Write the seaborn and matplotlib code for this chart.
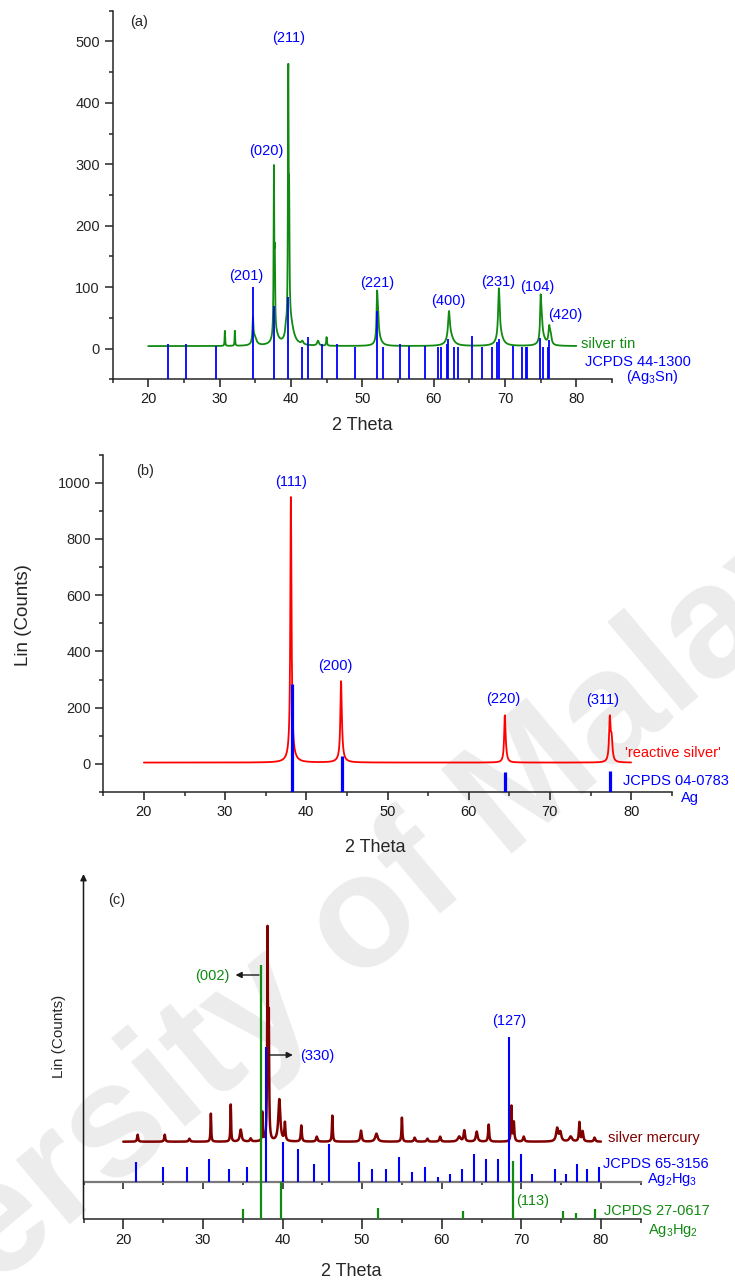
import numpy as np
import matplotlib
matplotlib.use("Agg")
import matplotlib.pyplot as plt
from matplotlib.ticker import MultipleLocator, NullLocator
import seaborn as sns

# ---------------- data ----------------
# (a) silver tin: peak list (2theta, height above background, FWHM)
sn_pos  = [30.75, 32.15, 34.68, 34.9, 37.62, 37.74, 37.85, 39.3, 39.63, 39.75, 39.95,
           41.6, 43.8, 45.0, 52.08, 52.22, 52.35, 62.15, 62.35, 69.15, 69.3,
           75.0, 75.15, 75.3, 76.2, 76.4]
sn_int  = [26, 26, 38, 14, 262, 110, 18, 14, 405, 170, 36,
           5, 8, 14, 72, 30, 12, 44, 15, 78, 18,
           64, 28, 12, 26, 14]
sn_fwhm = [0.08, 0.08, 0.15, 0.6, 0.1, 0.1, 0.9, 0.2, 0.11, 0.12, 1.0,
           0.3, 0.3, 0.12, 0.18, 0.2, 0.8, 0.3, 1.0, 0.25, 0.9,
           0.18, 0.25, 0.9, 0.25, 0.3]
sn_background = 4

# JCPDS 44-1300 (Ag3Sn) reference lines
ag3sn_pos = [22.75, 25.35, 29.5, 34.65, 37.6, 39.6, 41.6, 42.45, 44.35, 46.4, 49.0,
             52.05, 52.9, 55.25, 56.55, 58.85, 60.65, 61.0, 61.85, 62.05, 62.9, 63.4,
             65.35, 66.75, 68.25, 68.85, 69.1, 71.15, 72.35, 72.9, 73.1, 74.9, 75.4,
             76.0, 76.2]
ag3sn_int = [7, 7, 5, 100, 70, 84, 3, 19, 8, 8, 3,
             61, 3, 8, 5, 5, 3, 3, 8, 15, 3, 3,
             20, 3, 3, 11, 15, 4, 2, 2, 2, 18, 3,
             3, 14]
ag3sn_hkl = ["(201)", "(020)", "(211)", "(221)", "(400)", "(231)", "(104)", "(420)"]
ag3sn_hkl_x = [33.7, 36.6, 39.65, 52.1, 62.1, 69.0, 74.5, 78.4]
ag3sn_hkl_y = [118, 322, 506, 107, 77, 108, 100, 54]

# (b) reactive silver
ag_pos  = [38.1, 38.22, 38.15, 44.28, 44.4, 44.3, 64.45, 64.6, 77.38, 77.6]
ag_int  = [880, 60, 40, 262, 25, 14, 160, 18, 150, 75]
ag_fwhm = [0.16, 0.2, 0.8, 0.2, 0.25, 0.9, 0.2, 0.3, 0.22, 0.25]
ag_background = 5

# JCPDS 04-0783 (Ag) reference lines
jc_ag_pos = [38.2, 44.35, 64.5, 77.4]
jc_ag_int = [285, 28, -30, -25]
ag_hkl = ["(111)", "(200)", "(220)", "(311)"]
ag_hkl_x = [38.07, 43.6, 64.3, 76.5]
ag_hkl_y = [1003, 350, 230, 227]

# (c) silver mercury (arbitrary intensity units)
hg_pos  = [21.8, 25.2, 28.3, 31.0, 33.5, 34.75, 36.0, 37.47, 38.12, 38.28, 39.6,
           40.3, 42.36, 44.3, 46.26, 49.86, 51.8, 55.0, 56.6, 58.2, 59.8, 62.2,
           62.84, 64.4, 65.9, 68.75, 69.06, 70.3, 74.5, 74.9, 76.2, 77.3, 77.7, 79.2]
hg_int  = [7, 7, 3, 28, 37, 12, 3, 30, 205, 115, 42,
           18, 16, 5, 26, 11, 8, 24, 4, 3, 5, 5,
           11, 10, 17, 36, 19, 5, 13, 9, 5, 19, 10, 4]
hg_fwhm = [0.15, 0.15, 0.2, 0.1, 0.1, 0.25, 0.2, 0.08, 0.1, 0.1, 0.3,
           0.15, 0.15, 0.2, 0.12, 0.2, 0.35, 0.12, 0.2, 0.2, 0.2, 0.4,
           0.2, 0.25, 0.15, 0.12, 0.15, 0.2, 0.3, 0.3, 0.4, 0.15, 0.2, 0.2]
hg_offset = 77

# JCPDS 65-3156 (Ag2Hg3) reference lines, drawn from the middle baseline
ag2hg3_pos = [21.55, 24.95, 27.96, 30.73, 33.24, 35.6, 37.87, 40.0, 42.0, 43.98,
              45.9, 49.57, 51.28, 53.0, 54.67, 56.3, 57.9, 59.5, 61.05, 62.55,
              64.05, 65.6, 67.05, 68.45, 69.95, 71.35, 74.2, 75.6, 76.95, 78.3, 79.7]
ag2hg3_int = [20, 15, 15, 23, 13, 15, 135, 40, 33, 18,
              38, 20, 13, 13, 25, 10, 15, 5, 8, 13,
              28, 23, 23, 145, 28, 8, 13, 8, 18, 13, 15]
ag2hg3_base = 36.7

# JCPDS 27-0617 (Ag3Hg2) reference lines
ag3hg2_pos = [35.0, 37.25, 39.82, 52.0, 62.72, 68.9, 75.25, 76.9, 79.3]
ag3hg2_int = [9.7, 254, 36.7, 11, 8, 58, 7.7, 6, 9.7]

# ---------------- style ----------------
sns.set_theme(style="ticks")
plt.rcParams["font.family"] = ["Liberation Sans", "DejaVu Sans"]
plt.rcParams["mathtext.fontset"] = "custom"
plt.rcParams["mathtext.rm"] = "Liberation Sans"
plt.rcParams["mathtext.it"] = "Liberation Sans:italic"
plt.rcParams["axes.linewidth"] = 1.1

GREEN = "#118a11"
BLUE = "#0000ff"
RED = "#ff0000"
DARKRED = "#800000"
FS = 10.5

theta = np.round(np.arange(20.0, 80.0001, 0.02), 3)


def pattern(pos, inten, fwhm, base):
    y = np.full(theta.shape, float(base))
    for c, h, w in zip(pos, inten, fwhm):
        y += h / (1.0 + ((theta - c) / (w / 2.0)) ** 2)
    return y


W, H = 735.0, 1280.0
fig = plt.figure(figsize=(7.35, 12.8), dpi=100)


def add_axes_px(left, top, right, bottom):
    ax = fig.add_axes([left / W, 1 - bottom / H, (right - left) / W, (bottom - top) / H])
    ax.set_facecolor("none")
    return ax


def style_x(ax):
    ax.set_xlim(15, 85)
    ax.xaxis.set_major_locator(MultipleLocator(10))
    ax.xaxis.set_minor_locator(MultipleLocator(5))
    ax.tick_params(axis="x", which="major", direction="out", length=6, width=1.1,
                   labelsize=FS, pad=3, colors="k")
    ax.tick_params(axis="x", which="minor", direction="out", length=3, width=1.1)


def style_y(ax, major, minor):
    ax.yaxis.set_major_locator(MultipleLocator(major))
    ax.yaxis.set_minor_locator(MultipleLocator(minor))
    ax.tick_params(axis="y", which="major", direction="out", length=6, width=1.1,
                   labelsize=FS, pad=3)
    ax.tick_params(axis="y", which="minor", direction="out", length=3, width=1.1)


# watermark behind the panels
fig.text(294 / W, 1 - 982 / H, "University of Malaya", rotation=40, rotation_mode="anchor",
         ha="center", va="center", fontsize=115, fontweight="bold", color="#ececec",
         zorder=-5)

# ---------------- (a) ----------------
ax_a = add_axes_px(112.5, 10.7, 612, 379.3)
sns.lineplot(x=theta, y=pattern(sn_pos, sn_int, sn_fwhm, sn_background), ax=ax_a,
             color=GREEN, lw=1.3, zorder=2)
ax_a.vlines(ag3sn_pos, -50, ag3sn_int, color=BLUE, lw=1.3, zorder=3)
ax_a.set_ylim(-50, 550)
style_x(ax_a)
style_y(ax_a, 100, 50)
sns.despine(ax=ax_a)
ax_a.set_xlabel("")
ax_a.set_ylabel("")
for lab, x, y in zip(ag3sn_hkl, ag3sn_hkl_x, ag3sn_hkl_y):
    ax_a.text(x, y, lab, color=BLUE, fontsize=FS, ha="center", va="center")
ax_a.text(18.7, 532, "(a)", fontsize=FS, ha="center", va="center")
ax_a.text(80.7, 8, "silver tin", color=GREEN, fontsize=FS, ha="left", va="center",
          clip_on=False)
ax_a.text(81.2, -22, "JCPDS 44-1300", color=BLUE, fontsize=FS, ha="left", va="center",
          clip_on=False)
ax_a.text(90.6, -47, "(Ag$_3$Sn)", color=BLUE, fontsize=FS, ha="center", va="center",
          clip_on=False)
fig.text(362 / W, 1 - 425 / H, "2 Theta", fontsize=13, ha="center", va="center")

# ---------------- (b) ----------------
ax_b = add_axes_px(103.3, 454.6, 671.7, 792.1)
sns.lineplot(x=theta, y=pattern(ag_pos, ag_int, ag_fwhm, ag_background), ax=ax_b,
             color=RED, lw=1.3, zorder=2)
ax_b.vlines(jc_ag_pos, -100, jc_ag_int, color=BLUE, lw=2.3, zorder=3)
ax_b.set_ylim(-100, 1100)
style_x(ax_b)
style_y(ax_b, 200, 100)
sns.despine(ax=ax_b)
ax_b.set_xlabel("")
ax_b.set_ylabel("")
for lab, x, y in zip(ag_hkl, ag_hkl_x, ag_hkl_y):
    ax_b.text(x, y, lab, color=BLUE, fontsize=FS, ha="center", va="center")
ax_b.text(20.1, 1041, "(b)", fontsize=FS, ha="center", va="center")
ax_b.text(79.24, 40, "'reactive silver'", color=RED, fontsize=FS, ha="left", va="center",
          clip_on=False)
ax_b.text(78.95, -60, "JCPDS 04-0783", color=BLUE, fontsize=FS, ha="left", va="center",
          clip_on=False)
ax_b.text(87.2, -122, "Ag", color=BLUE, fontsize=FS, ha="center", va="center",
          clip_on=False)
fig.text(23 / W, 1 - 615 / H, "Lin (Counts)", fontsize=13.5, rotation=90,
         ha="center", va="center")
fig.text(375 / W, 1 - 848 / H, "2 Theta", fontsize=13, ha="center", va="center")

# ---------------- (c) ----------------
ax_c = add_axes_px(83.5, 874, 640.7, 1218.7)
ax_c.set_ylim(0, 344.7)
sns.lineplot(x=theta, y=pattern(hg_pos, hg_int, hg_fwhm, hg_offset), ax=ax_c,
             color=DARKRED, lw=1.8, zorder=2)
ax_c.vlines(ag2hg3_pos, ag2hg3_base, np.array(ag2hg3_int) + ag2hg3_base, color=BLUE,
            lw=1.5, zorder=3)
ax_c.vlines(ag3hg2_pos, 0, ag3hg2_int, color=GREEN, lw=1.6, zorder=3)
style_x(ax_c)
ax_c.yaxis.set_major_locator(NullLocator())
ax_c.yaxis.set_minor_locator(NullLocator())
for s in ("top", "right", "left"):
    ax_c.spines[s].set_visible(False)
ax_c.set_xlabel("")
ax_c.set_ylabel("")
ax_c.tick_params(axis="x", which="major", length=7)

# middle baseline axis carrying the Ag2Hg3 reference lines
mid = ax_c.secondary_xaxis(ag2hg3_base / 344.7)
mid.xaxis.set_major_locator(MultipleLocator(10))
mid.xaxis.set_minor_locator(MultipleLocator(5))
mid.spines["bottom"].set_color("#7a7a7a")
mid.spines["bottom"].set_linewidth(1.6)
mid.tick_params(axis="x", which="major", direction="out", length=5, width=1.1,
                labelbottom=False, labeltop=False, colors="k")
mid.tick_params(axis="x", which="minor", direction="out", length=2.5, width=1.1,
                colors="k")

# vertical intensity axis with an arrow head
ax_c.annotate("", xy=(0, 1), xytext=(0, 0), xycoords="axes fraction",
              arrowprops=dict(arrowstyle="-|>", color="k", lw=1.1, mutation_scale=9,
                              shrinkA=0, shrinkB=0), annotation_clip=False)

arrow_kw = dict(arrowstyle="-|>", color="k", lw=1.0, mutation_scale=9,
                shrinkA=0, shrinkB=0)
ax_c.annotate("", xy=(34.1, 243.7), xytext=(37.05, 243.7), arrowprops=arrow_kw)
ax_c.annotate("", xy=(41.3, 163.7), xytext=(38.35, 163.7), arrowprops=arrow_kw)
ax_c.text(31.2, 242.5, "(002)", color=GREEN, fontsize=FS, ha="center", va="center")
ax_c.text(42.2, 163, "(330)", color=BLUE, fontsize=FS, ha="left", va="center")
ax_c.text(68.5, 198, "(127)", color=BLUE, fontsize=FS, ha="center", va="center")
ax_c.text(69.3, 18, "(113)", color=GREEN, fontsize=FS, ha="left", va="center")
ax_c.text(19.2, 318.7, "(c)", fontsize=FS, ha="center", va="center")
ax_c.text(80.95, 80.4, "silver mercury", color=DARKRED, fontsize=FS, ha="left",
          va="center", clip_on=False)
ax_c.text(80.3, 54.7, "JCPDS 65-3156", color=BLUE, fontsize=FS, ha="left", va="center",
          clip_on=False)
ax_c.text(88.9, 39, "Ag$_2$Hg$_3$", color=BLUE, fontsize=FS, ha="center", va="center",
          clip_on=False)
ax_c.text(80.4, 7.7, "JCPDS 27-0617", color=GREEN, fontsize=FS, ha="left", va="center",
          clip_on=False)
ax_c.text(89.1, -12, "Ag$_3$Hg$_2$", color=GREEN, fontsize=FS, ha="center", va="center",
          clip_on=False)
fig.text(58.8 / W, 1 - 1036 / H, "Lin (Counts)", fontsize=11, rotation=90,
         ha="center", va="center")
fig.text(351.3 / W, 1 - 1271 / H, "2 Theta", fontsize=13, ha="center", va="center")

fig.savefig("out.png", dpi=100, facecolor="white")
